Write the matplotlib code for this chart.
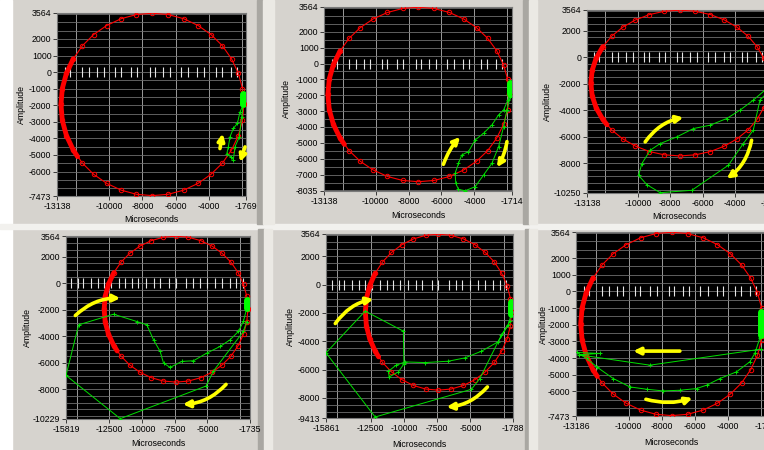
import numpy as np
import matplotlib.pyplot as plt
from matplotlib.patches import Rectangle

plt.rcParams['font.family'] = ['Liberation Sans', 'DejaVu Sans']

# reference signal (red circle), same in all six captures
ref_x = [-1900, -1980, -2230, -2640, -3190, -3870, -4650, -5520, -6450, -7400,
         -8360, -9280, -10150, -10940, -11610, -12160, -12570, -12820, -12900,
         -12820, -12570, -12160, -11610, -10940, -10150, -9280, -8360, -7400,
         -6450, -5520, -4650, -3870, -3190, -2640, -2230, -1980, -1900]
ref_y = [-1950, -990, -70, 800, 1590, 2260, 2810, 3220, 3470, 3550,
         3470, 3220, 2810, 2260, 1590, 800, -70, -990, -1950,
         -2910, -3830, -4700, -5490, -6160, -6710, -7120, -7370, -7450,
         -7370, -7120, -6710, -6160, -5490, -4700, -3830, -2910, -1950]
# dense part on the left side
ref_dense_x = [-12160, -12570, -12820, -12900, -12820, -12570, -12160, -11900]
ref_dense_y = [800, -70, -990, -1950, -2910, -3830, -4700, -5100]

# white marks along the zero line
marks_a = [-12676, -12375, -11611, -11210, -10707, -10326, -9623, -9301, -8698,
           -8317, -7553, -7252, -6750, -6348, -5685, -5243, -4701, -4299,
           -3576, -3234, -2692, -2330]
marks_b = [-15400, -14900, -14500, -13900, -13400, -12900, -12400, -11800,
           -11300, -10800, -10300, -9700, -9100, -8600, -7900, -7400, -6600,
           -6100, -5600, -5000, -4400, -3900, -3300, -2800, -2300]

# measured traces (green)
g1_x = [-1950, -2130, -2290, -2530, -2730, -2830, -2930, -2670, -2530, -2430,
        -2170, -2030, -1950]
g1_y = [-2000, -2400, -3100, -3400, -3900, -4500, -4950, -5120, -5280, -4500,
        -3900, -2700, -2000]
g2_x = [-1817, -1958, -2223, -2528, -2934, -3443, -3951, -4358, -4764, -4967,
        -5171, -5130, -4967, -4561, -3951, -3443, -2934, -2528, -2223, -2020,
        -1817]
g2_y = [-1900, -2289, -2921, -3237, -3869, -4395, -4816, -5553, -5763, -6290,
        -6921, -7553, -7932, -8016, -7764, -7027, -6290, -5237, -3974, -2921,
        -2079]
g3_x = [-1900, -2152, -2871, -3692, -4514, -5541, -6567, -7594, -8620, -9236,
        -9750, -9955, -9442, -8620, -6670, -4411, -3487, -2871, -2460, -2049]
g3_y = [-2000, -2486, -3242, -3998, -4629, -5133, -5385, -6015, -6519, -7023,
        -8032, -8914, -9620, -10225, -10048, -8158, -6519, -5511, -3242, -2738]
g4_x = [-1988, -2243, -2625, -3262, -4026, -5045, -6064, -6955, -7847, -8356,
        -8611, -9120, -9630, -10394, -12177, -14851, -15819, -11667, -5096,
        -4535, -2243, -2000]
g4_y = [-1900, -2878, -3633, -4260, -4761, -5263, -5839, -5889, -6341, -6015,
        -5138, -4260, -3131, -2881, -2329, -3131, -6943, -10203, -7745,
        -6617, -3633, -2900]
g5_x = [-1915, -2164, -2914, -4164, -5414, -6664, -8413, -9913, -10600, -11162,
        -11112, -10412, -10000, -10038, -12912, -15861, -12162, -4914, -4289,
        -2664, -2000]
g5_y = [-2100, -2866, -4043, -4703, -5174, -5409, -5503, -5456, -5700, -6116,
        -6516, -6163, -5600, -3289, -1876, -4820, -9342, -7387, -6634,
        -3572, -2600]
g6_x = [-1990, -2091, -2392, -2693, -3497, -4503, -5306, -5910, -6915, -7920,
        -8925, -9930, -10935, -11940, -12543, -13146, -11739, -13000, -8724,
        -1990]
g6_y = [-2600, -2818, -3721, -4223, -4825, -5226, -5627, -5828, -5928, -5968,
        -5868, -5728, -5226, -4524, -4022, -3661, -3721, -3800, -4424, -3460]

# thick start cluster of each trace
blob_x = [[-1960, -1960], [-1817, -1817], [-1900, -1900],
          [-1988, -1988], [-1915, -1915], [-1990, -1990]]
blob_y = [[-1350, -1950], [-1250, -1900], [-1500, -2000],
          [-1250, -1900], [-1250, -2100], [-1250, -2600]]

# axis ranges as shown on the captures
x_lims = [(-13138, -1769), (-13138, -1714), (-13138, -1714),
          (-15819, -1735), (-15861, -1788), (-13186, -1714)]
y_lims = [(-7473, 3564), (-8035, 3564), (-10250, 3564),
          (-10229, 3564), (-9413, 3564), (-7473, 3564)]
x_inner = [[-10000, -8000, -6000, -4000]] * 3 + \
          [[-12500, -10000, -7500, -5000]] * 2 + [[-10000, -8000, -6000, -4000]]
y_inner = [[2000, 1000, 0, -1000, -2000, -3000, -4000, -5000, -6000],
           [2000, 1000, 0, -1000, -2000, -3000, -4000, -5000, -6000, -7000],
           [2000, 0, -2000, -4000, -6000, -8000],
           [2000, 0, -2000, -4000, -6000, -8000],
           [2000, 0, -2000, -4000, -6000, -8000],
           [2000, 1000, 0, -1000, -2000, -3000, -4000, -5000, -6000]]
x_grid_step = [2000, 2000, 2000, 2500, 2500, 2000]
marks = [marks_a, marks_a, marks_a, marks_b, marks_b, marks_a]
greens = [(g1_x, g1_y), (g2_x, g2_y), (g3_x, g3_y),
          (g4_x, g4_y), (g5_x, g5_y), (g6_x, g6_y)]

# yellow direction arrows: start x, start y, end x, end y, bend
arrows = [
    [(-3335, -4613, -3174, -3707, 0.0), (-1828, -4512, -2130, -5419, 0.0)],
    [(-5882, -6353, -4866, -4627, -0.1), (-2020, -4921, -2630, -6542, -0.1)],
    [(-9545, -6393, -7183, -4553, -0.2), (-2974, -6267, -4514, -9166, -0.2)],
    [(-15106, -2430, -11667, -1126, -0.2), (-3567, -7619, -6878, -9123, -0.2)],
    [(-15161, -2748, -12287, -1029, -0.2), (-3713, -7222, -6789, -8635, -0.2)],
    [(-6915, -3580, -9729, -3580, 0.0), (-8965, -6470, -6151, -6390, 0.15)],
]

# plot boxes in pixels (left, top, right, bottom) and axis label positions
boxes = [(57, 13, 246, 196), (324, 7, 512, 191), (587, 10, 772, 193),
         (66, 236, 250, 419), (326, 234, 513, 418), (576, 232, 766, 416)]
ylabel_pos = [-0.164, -0.176, -0.189, -0.185, -0.166, -0.147]
xlabel_pos = [-0.104, -0.109, -0.104, -0.109, -0.12, -0.12]

W, H = 764, 450
panel_gray = '#d6d3ce'
fig = plt.figure(figsize=(W / 100, H / 100), dpi=100, facecolor=panel_gray)


def fig_rect(x0, y0, x1, y1, color):
    fig.patches.append(Rectangle((x0 / W, 1 - y1 / H), (x1 - x0) / W, (y1 - y0) / H,
                                 transform=fig.transFigure, color=color,
                                 zorder=-5))


# window borders of the screenshots
fig_rect(0, 0, 12, 450, 'white')
fig_rect(0, 224, 764, 229, '#f2f1ee')
fig_rect(257, 0, 263, 224, '#a9a7a2')
fig_rect(263, 0, 274, 224, '#ebe9e4')
fig_rect(523, 0, 529, 224, '#a9a7a2')
fig_rect(529, 0, 537, 224, '#ebe9e4')
fig_rect(258, 229, 264, 450, '#a9a7a2')
fig_rect(264, 229, 272, 450, '#ebe9e4')
fig_rect(525, 229, 529, 450, '#a9a7a2')
fig_rect(529, 229, 537, 450, '#ebe9e4')

tick_font = ['Liberation Sans Narrow', 'Liberation Sans', 'DejaVu Sans']

for i in range(6):
    l, t, r, b = boxes[i]
    ax = fig.add_axes([l / W, 1 - b / H, (r - l) / W, (b - t) / H])
    ax.set_facecolor('black')
    x0, x1 = x_lims[i]
    y0, y1 = y_lims[i]

    # grid
    step = x_grid_step[i]
    for gx in np.arange(np.ceil(x0 / step) * step, x1, step):
        ax.axvline(gx, color='#9a9a9a', lw=0.7, zorder=1)
    for gy in np.arange(np.ceil(y0 / 500) * 500, y1, 500):
        ax.axhline(gy, color='#6e6e6e', lw=0.6, zorder=1)

    # zero-line marks
    ax.plot(marks[i], [0] * len(marks[i]), ls='none', marker='|', ms=7,
            mew=0.8, color='#e6e6e6', zorder=2)

    # red reference
    ax.plot(ref_x, ref_y, color='#ff0000', lw=0.8, marker='o', ms=3.2,
            mfc='none', mew=0.7, zorder=3)
    ax.plot(ref_dense_x, ref_dense_y, color='#ff0000', lw=3.5,
            solid_capstyle='round', zorder=3)

    # green trace
    gx_, gy_ = greens[i]
    ax.plot(gx_, gy_, color='#00e000', lw=0.7, marker='+', ms=3.5, mew=0.7,
            zorder=4)
    ax.plot(blob_x[i], blob_y[i], color='#00ff00', lw=5,
            solid_capstyle='round', zorder=4)

    # arrows
    for sx, sy, ex, ey, rad in arrows[i]:
        ax.annotate('', xy=(ex, ey), xytext=(sx, sy), zorder=5,
                    arrowprops=dict(arrowstyle='-|>', color='#ffff00', lw=2.6,
                                    mutation_scale=10, shrinkA=0, shrinkB=0,
                                    connectionstyle=f'arc3,rad={rad}'))

    ax.set_xlim(x0, x1)
    ax.set_ylim(y0, y1)
    xt = [x0] + x_inner[i] + [x1]
    yt = [y1] + y_inner[i] + [y0]
    ax.set_xticks(xt)
    ax.set_xticklabels([str(v) for v in xt], family=tick_font, fontsize=6.3)
    ax.set_yticks(yt)
    ax.set_yticklabels([str(v) for v in yt], family=tick_font, fontsize=6.3)
    ax.tick_params(direction='out', length=3, width=0.6, color='#202020',
                   pad=1)
    for s in ax.spines.values():
        s.set_color('#7a7a7a')
        s.set_linewidth(0.8)

    ax.set_xlabel('Microseconds', fontsize=6.3)
    ax.set_ylabel('Amplitude', fontsize=6.3)
    ax.xaxis.set_label_coords(0.5, xlabel_pos[i])
    ax.yaxis.set_label_coords(ylabel_pos[i], 0.5)

fig.savefig('out.png', dpi=100, facecolor=fig.get_facecolor())
